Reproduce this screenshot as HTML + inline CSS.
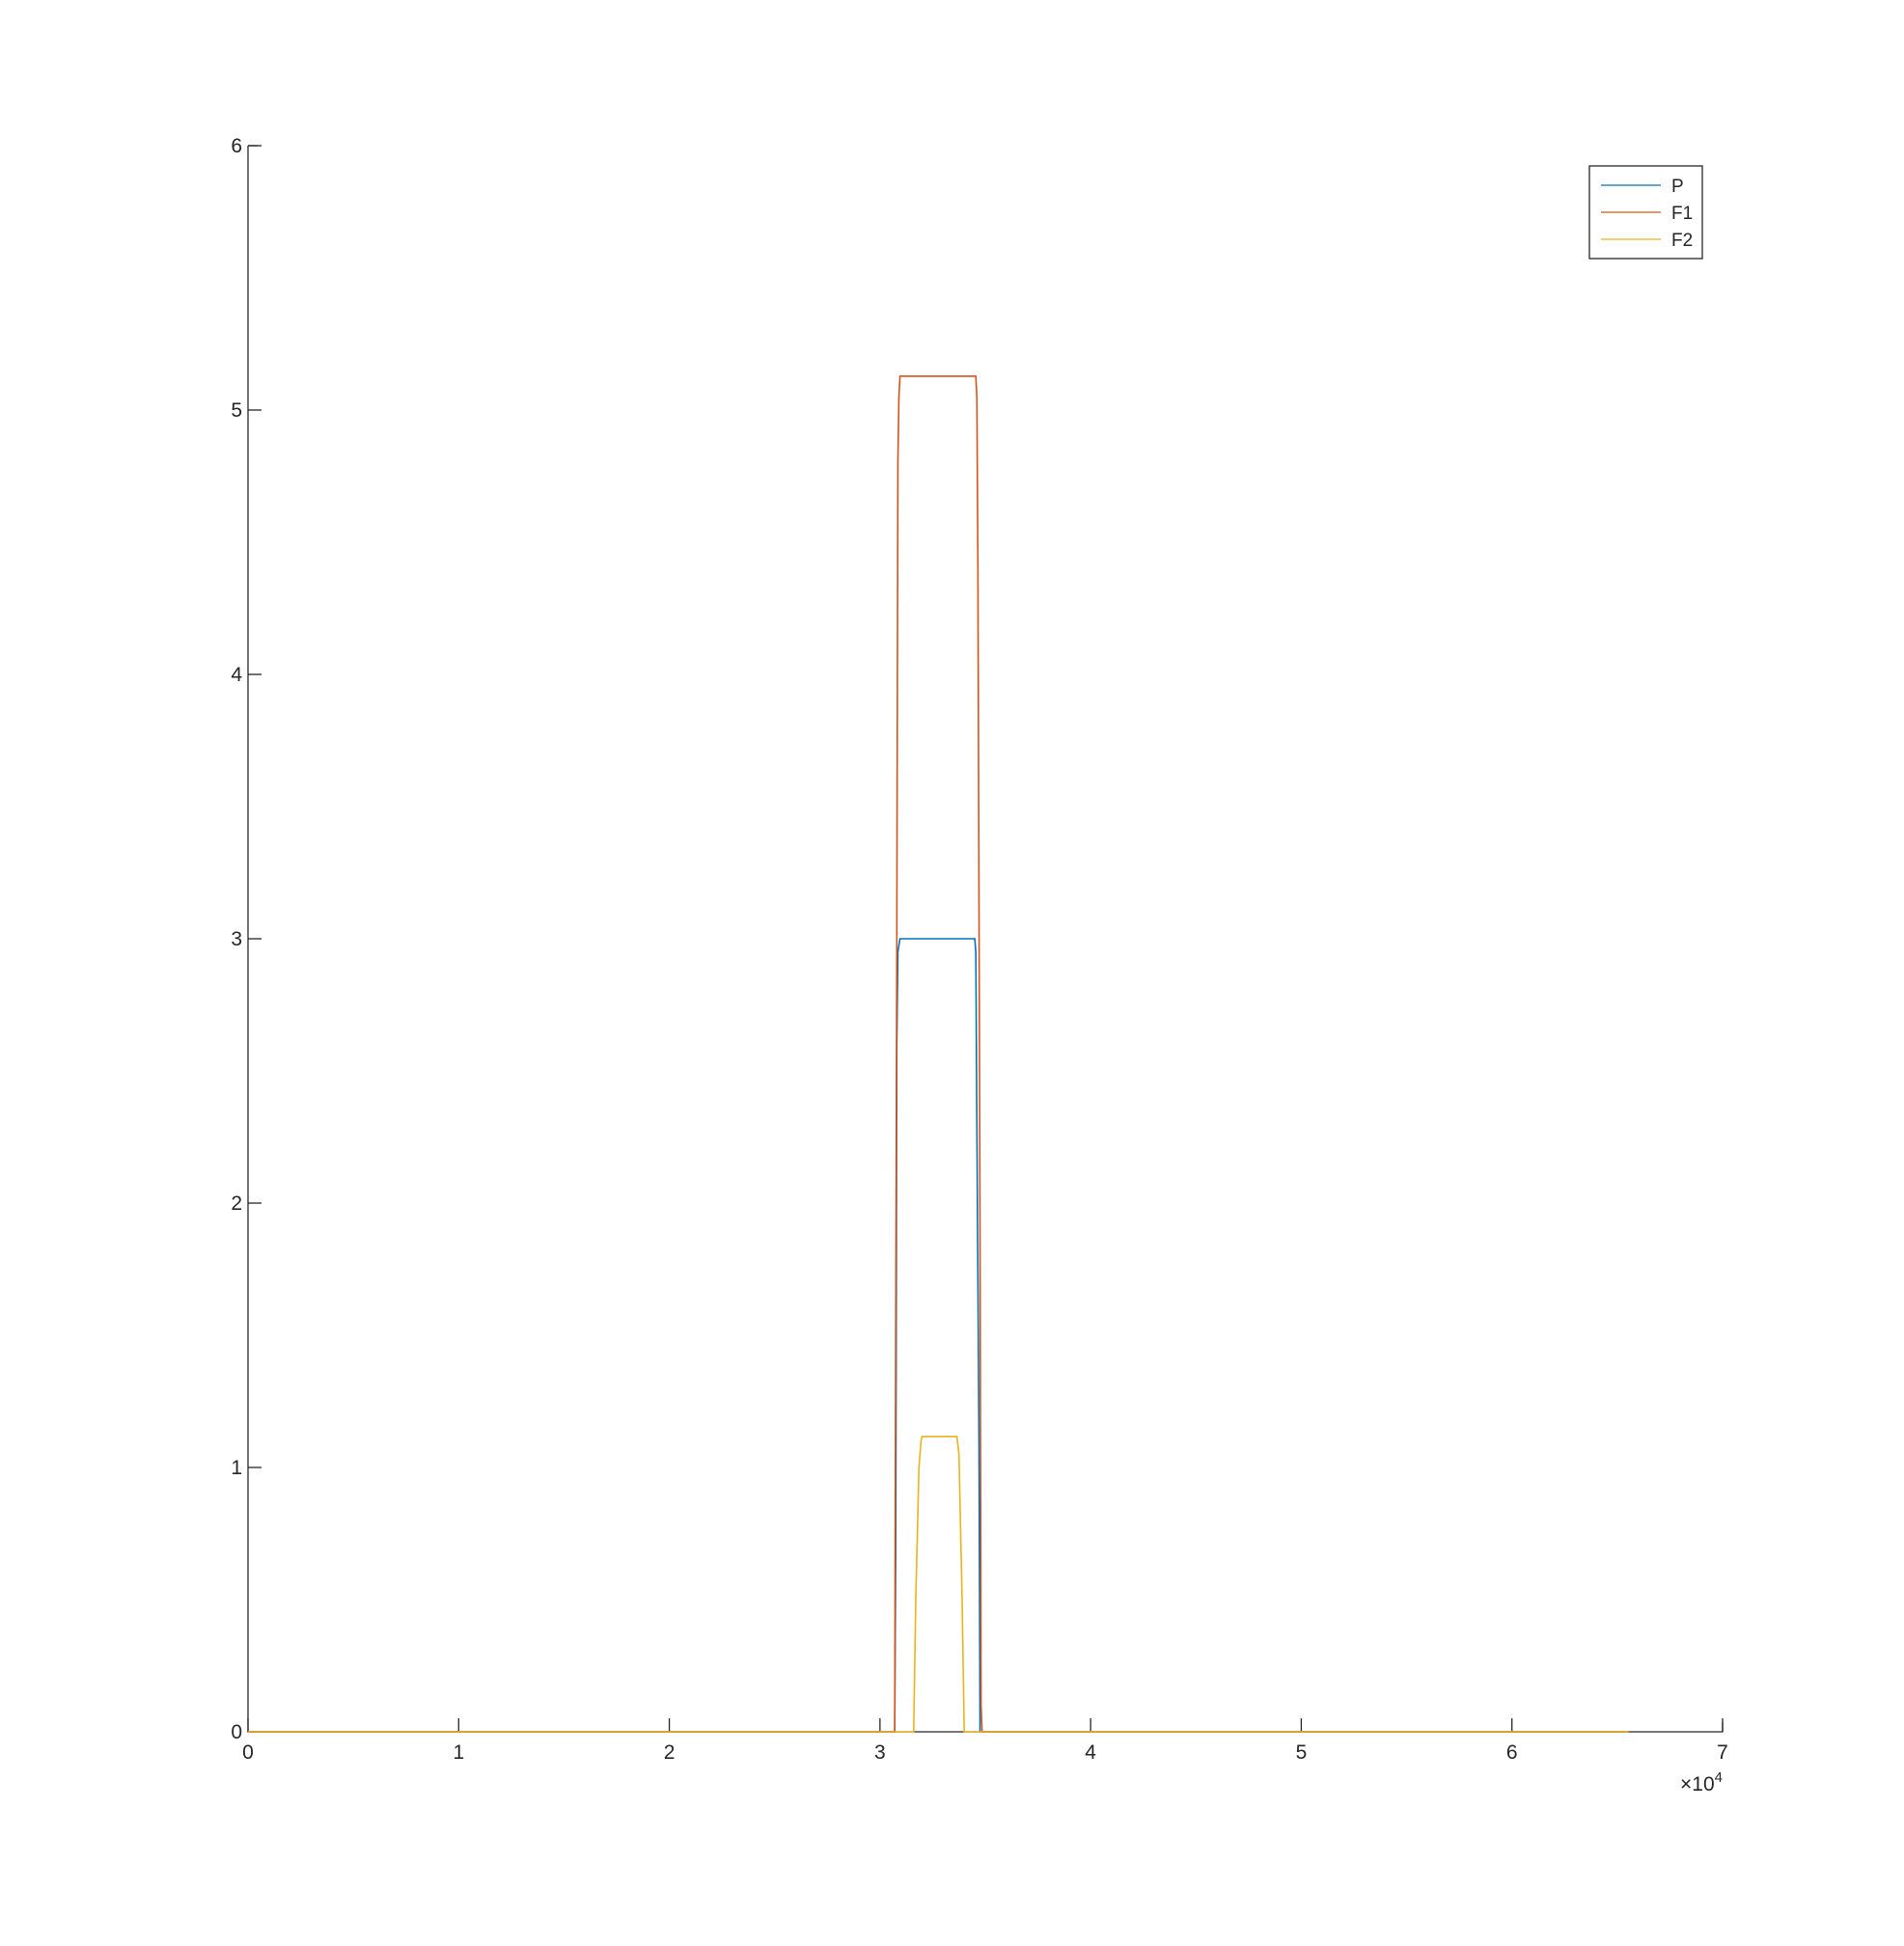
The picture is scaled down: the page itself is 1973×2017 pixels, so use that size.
<!DOCTYPE html>
<html><head><meta charset="utf-8"><style>
html,body{margin:0;padding:0;background:#fff;}
svg{display:block;font-family:"Liberation Sans",sans-serif;}
</style></head><body>
<svg id="chart" width="1973" height="2017" viewBox="0 0 1973 2017" xmlns="http://www.w3.org/2000/svg">
<rect width="1973" height="2017" fill="#fff"/>
<g id="axes"></g>
<g id="series"></g>
<g id="legend">
<rect x="1647" y="172" width="117" height="96" fill="#fff" stroke="#262626" stroke-width="1.3"/>
<line x1="1659" y1="192" x2="1721" y2="192" stroke="#0072BD" stroke-width="1.3"/>
<text x="1732" y="199" font-size="19" fill="#262626">P</text>
<line x1="1659" y1="220" x2="1721" y2="220" stroke="#D95319" stroke-width="1.3"/>
<text x="1732" y="227" font-size="19" fill="#262626">F1</text>
<line x1="1659" y1="248" x2="1721" y2="248" stroke="#EDB120" stroke-width="1.3"/>
<text x="1732" y="255" font-size="19" fill="#262626">F2</text>
</g>
</svg>
<script>
const xTicks = [0,1,2,3,4,5,6,7];
const yTicks = [0,1,2,3,4,5,6];
const pX = [0,30700,30750,30800,30850,30950,34500,34550,34600,34700,34750,65536];
const pY = [0,0,0.7,2.6,2.95,3.0,3.0,2.95,2.3,1.1,0,0];
const f1X = [0,30700,30750,30800,30850,30900,30950,34550,34600,34650,34750,34800,34850,65536];
const f1Y = [0,0,1.6,3.0,4.8,5.05,5.128,5.128,5.05,4.4,1.9,0.1,0,0];
const f2X = [0,31600,31700,31850,31950,32000,33650,33750,33900,34000,65536];
const f2Y = [0,0,0.5,1.0,1.1,1.117,1.117,1.05,0.5,0,0];

const L=257,R=1785,T=151,B=1795;
const sx=v=>L+(v/70000)*(R-L);
const sy=v=>B-(v/6)*(B-T);
const NS="http://www.w3.org/2000/svg";
const axes=document.getElementById('axes');
const ser=document.getElementById('series');
function mk(tag,attrs,parent){const e=document.createElementNS(NS,tag);for(const k in attrs)e.setAttribute(k,attrs[k]);parent.appendChild(e);return e;}

let ax=mk('path',{d:`M${L},${T}L${L},${B}L${R},${B}L${R},${B-10}`,fill:'none',stroke:'#262626','stroke-width':1.3},axes);


mk('line',{x1:L,y1:T,x2:L+10,y2:T,stroke:'#262626','stroke-width':1.3},axes);
xTicks.forEach(t=>{
  const x=sx(t*10000);
  const l=mk('line',{x1:x,y1:B,x2:x,y2:B-14,stroke:'#262626','stroke-width':1.3},axes);
  
  
  const tx=mk('text',{x:x,y:B+28,'font-size':21,fill:'#262626','text-anchor':'middle'},axes);
  tx.textContent=t;
  
  
});
yTicks.forEach(t=>{
  const y=sy(t);
  const l=mk('line',{x1:L,y1:y,x2:L+14,y2:y,stroke:'#262626','stroke-width':1.3},axes);
  
  
  const tx=mk('text',{x:L-6,y:y+7,'font-size':21,fill:'#262626','text-anchor':'end'},axes);
  tx.textContent=t;
  
  
});
const ex=mk('text',{x:1785,y:1856,'font-size':21,fill:'#262626','text-anchor':'end'},axes);
ex.innerHTML='×10<tspan dy="-9" font-size="15">4</tspan>';



function line(xs,ys,color,name){
  const d=xs.map((x,i)=>(i?'L':'M')+sx(x).toFixed(2)+','+sy(ys[i]).toFixed(2)).join('');
  const p=mk('path',{d:d,fill:'none',stroke:color,'stroke-width':1.6},ser);
  
  
}
line(pX,pY,'#0072BD','series-p');
line(f1X,f1Y,'#D95319','series-f1');
line(f2X,f2Y,'#EDB120','series-f2');
</script>
</body></html>
